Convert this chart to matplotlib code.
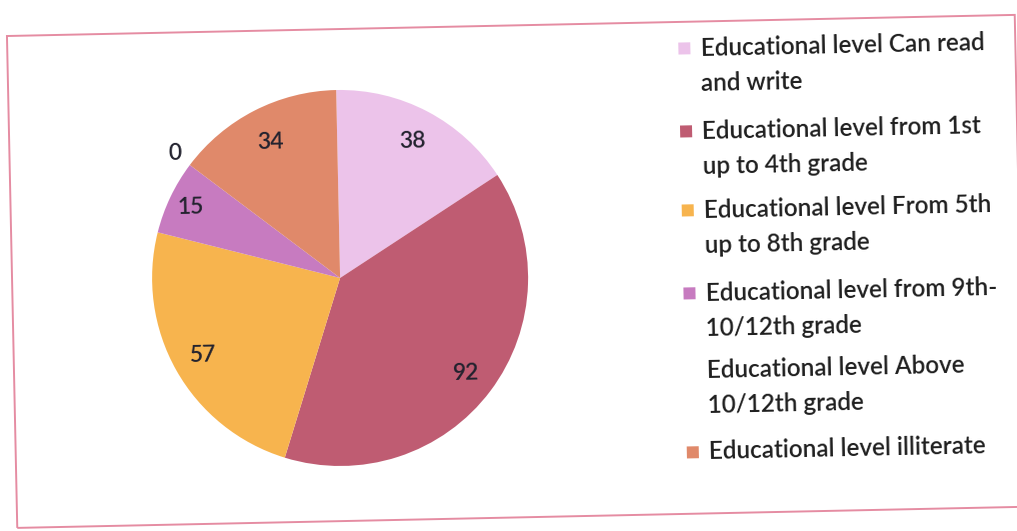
import matplotlib
matplotlib.use('Agg')
import matplotlib.pyplot as plt
import numpy as np
from matplotlib.patches import Rectangle
from matplotlib.transforms import Affine2D

plt.rcParams['font.family'] = ['Lato', 'DejaVu Sans']

# education level counts, clockwise from 12 o'clock
levels = ['Educational level Can read\nand write',
          'Educational level from 1st\nup to 4th grade',
          'Educational level From 5th\nup to 8th grade',
          'Educational level from 9th-\n10/12th grade',
          'Educational level Above\n10/12th grade',
          'Educational level illiterate']
counts = [38, 92, 57, 15, 0, 34]
colors = ['#ECC3EA', '#BF5C72', '#F7B44E', '#C77BC0', '#FFFFFF', '#E0896A']

W, H = 1017, 531
fig = plt.figure(figsize=(W / 100, H / 100), dpi=100)
fig.patch.set_facecolor('white')

# the whole sheet sits slightly tilted
rot = Affine2D().rotate_deg_around(516, 259.6, 1.2)
tilt = 1.2

# chart border
frame = Rectangle((12, 13.6), 1008, 492, fill=False, edgecolor='#E58CA2',
                  linewidth=1.4, transform=rot)
fig.add_artist(frame)

# pie
cx, cy, R = 340, 256.7, 188
ax = fig.add_axes([(cx - R) / W, (cy - R) / H, 2 * R / W, 2 * R / H])
wedges, _ = ax.pie(counts, colors=colors, startangle=90, counterclock=False,
                   radius=1, wedgeprops=dict(linewidth=0))
ax.set_xlim(-1, 1)
ax.set_ylim(-1, 1)
ax.axis('off')

label_dist = [0.82, 0.84, 0.84, 0.88, 1.10, 0.81]
for w, n, d in zip(wedges, counts, label_dist):
    ang = np.deg2rad((w.theta1 + w.theta2) / 2)
    ax.text(d * np.cos(ang), d * np.sin(ang), str(n), ha='center', va='center',
            fontsize=16.5, fontweight='semibold', color='#22222E',
            rotation=tilt, rotation_mode='anchor')

for art in list(ax.patches) + list(ax.texts):
    art.set_transform(art.get_transform() + rot)
    art.set_clip_on(False)

# legend drawn by hand
tx = 705
first_lines = [479, 396, 317, 234, 157, 75]
for lab, col, y in zip(levels, colors, first_lines):
    if col != '#FFFFFF':
        fig.add_artist(Rectangle((tx - 22, y - 6), 12, 12, facecolor=col,
                                 edgecolor='none', transform=rot))
    for i, line in enumerate(lab.split('\n')):
        fig.text(tx, y - i * 35, line, ha='left', va='center', fontsize=17.5,
                 fontweight='semibold', color='#1E1E1E', transform=rot,
                 rotation=tilt, rotation_mode='anchor')

fig.savefig('out.png', dpi=100)
